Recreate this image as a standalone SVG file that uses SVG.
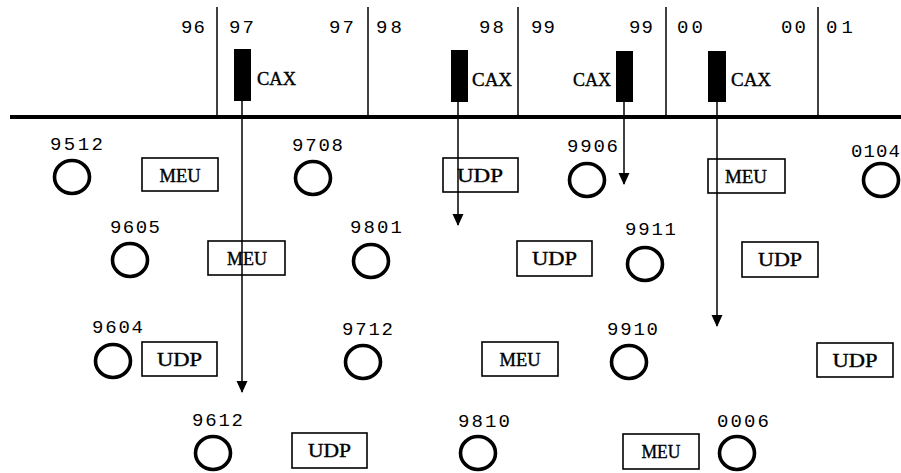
<svg xmlns="http://www.w3.org/2000/svg" width="901" height="473" viewBox="0 0 901 473">
<style>
.bg{fill:#fff}
.yr{font-family:"Liberation Mono","DejaVu Sans Mono",monospace;font-size:19px;fill:#000}
.lbl{font-family:"Liberation Mono","DejaVu Sans Mono",monospace;font-size:19px;fill:#000}
.srf{font-family:"Liberation Serif","DejaVu Serif",serif;font-size:19.5px;fill:#000;stroke:#000;stroke-width:0.4}
.ring{fill:none;stroke:#000;stroke-width:3.6}
.box{fill:#fff;stroke:#000;stroke-width:1.6}
.bar{fill:#000}
.div{stroke:#000;stroke-width:1.5}
.axis{stroke:#000;stroke-width:4}
.arr{stroke:#000;stroke-width:1.5;fill:none}
</style>
<defs>
<marker id="ah" viewBox="0 0 12 12" refX="11" refY="6" markerWidth="12" markerHeight="12" markerUnits="userSpaceOnUse" orient="auto">
<path d="M0,0.5 L12,6 L0,11.5 Z" fill="#000"/>
</marker>
</defs>
<rect class="bg" x="0" y="0" width="901" height="473"/>
<g id="timeline">
<line class="div" x1="217" y1="7" x2="217" y2="117"/>
<line class="div" x1="368" y1="7" x2="368" y2="117"/>
<line class="div" x1="518" y1="7" x2="518" y2="117"/>
<line class="div" x1="666" y1="7" x2="666" y2="117"/>
<line class="div" x1="818" y1="7" x2="818" y2="117"/>
<line class="axis" x1="10" y1="117" x2="901" y2="117"/>
<text class="yr" x="181" y="33" textLength="24">96</text>
<text class="yr" x="229" y="33" textLength="25">97</text>
<text class="yr" x="329" y="33" textLength="25">97</text>
<text class="yr" x="376" y="33" textLength="26">98</text>
<text class="yr" x="479" y="33" textLength="25">98</text>
<text class="yr" x="531" y="33" textLength="24">99</text>
<text class="yr" x="629" y="33" textLength="24">99</text>
<text class="yr" x="677" y="33" textLength="26">00</text>
<text class="yr" x="781" y="33" textLength="25">00</text>
<text class="yr" x="826" y="33" textLength="27">01</text>
</g>
<g id="cax1"><rect class="bar" x="234" y="49" width="17" height="52"/><text class="srf" x="257" y="85" textLength="39" lengthAdjust="spacingAndGlyphs">CAX</text></g>
<g id="cax2"><rect class="bar" x="451" y="50" width="17" height="52"/><text class="srf" x="472" y="86" textLength="40" lengthAdjust="spacingAndGlyphs">CAX</text></g>
<g id="cax3"><rect class="bar" x="616" y="51" width="17" height="51"/><text class="srf" x="573" y="86" textLength="38" lengthAdjust="spacingAndGlyphs">CAX</text></g>
<g id="cax4"><rect class="bar" x="708" y="51" width="18" height="51"/><text class="srf" x="731" y="86" textLength="40" lengthAdjust="spacingAndGlyphs">CAX</text></g>

<g id="n9512"><text class="lbl" x="50" y="150" textLength="53">9512</text><ellipse class="ring" cx="72" cy="177" rx="17.5" ry="16.5"/></g>
<g id="n9708"><text class="lbl" x="292" y="151" textLength="51">9708</text><ellipse class="ring" cx="313" cy="178" rx="17.5" ry="16.5"/></g>
<g id="n9906"><text class="lbl" x="567" y="152" textLength="51">9906</text><ellipse class="ring" cx="587" cy="180" rx="17.5" ry="16.5"/></g>
<g id="n0104"><text class="lbl" x="851" y="157" textLength="49">0104</text><ellipse class="ring" cx="881" cy="180" rx="17.5" ry="16.5"/></g>
<g id="n9605"><text class="lbl" x="110" y="233" textLength="50">9605</text><ellipse class="ring" cx="130" cy="260" rx="17.5" ry="16.5"/></g>
<g id="n9801"><text class="lbl" x="350" y="233" textLength="52">9801</text><ellipse class="ring" cx="371" cy="261" rx="17.5" ry="16.5"/></g>
<g id="n9911"><text class="lbl" x="625" y="235" textLength="51">9911</text><ellipse class="ring" cx="645" cy="264" rx="17.5" ry="16.5"/></g>
<g id="n9604"><text class="lbl" x="92" y="333" textLength="51">9604</text><ellipse class="ring" cx="113" cy="361" rx="17.5" ry="16.5"/></g>
<g id="n9712"><text class="lbl" x="342" y="335" textLength="51">9712</text><ellipse class="ring" cx="363" cy="362" rx="17.5" ry="16.5"/></g>
<g id="n9910"><text class="lbl" x="607" y="335" textLength="51">9910</text><ellipse class="ring" cx="629" cy="362" rx="17.5" ry="16.5"/></g>
<g id="n9612"><text class="lbl" x="192" y="426" textLength="51">9612</text><ellipse class="ring" cx="213" cy="453" rx="17.5" ry="16.5"/></g>
<g id="n9810"><text class="lbl" x="458" y="427" textLength="52">9810</text><ellipse class="ring" cx="478" cy="453" rx="17.5" ry="16.5"/></g>
<g id="n0006"><text class="lbl" x="717" y="427" textLength="52">0006</text><ellipse class="ring" cx="737" cy="453" rx="17.5" ry="16.5"/></g>

<g id="b1"><rect class="box" x="142" y="158" width="76" height="33"/><text class="srf" x="180" y="182" text-anchor="middle" textLength="41" lengthAdjust="spacingAndGlyphs">MEU</text></g>
<g id="b2"><rect class="box" x="443" y="158" width="75" height="34"/><text class="srf" x="480" y="182" text-anchor="middle" textLength="46" lengthAdjust="spacingAndGlyphs">UDP</text></g>
<g id="b3"><rect class="box" x="708" y="159" width="77" height="34"/><text class="srf" x="746" y="183" text-anchor="middle" textLength="42" lengthAdjust="spacingAndGlyphs">MEU</text></g>
<g id="b4"><rect class="box" x="208" y="241" width="77" height="34"/><text class="srf" x="247" y="265" text-anchor="middle" textLength="40" lengthAdjust="spacingAndGlyphs">MEU</text></g>
<g id="b5"><rect class="box" x="517" y="241" width="75" height="35"/><text class="srf" x="554.5" y="265" text-anchor="middle" textLength="45" lengthAdjust="spacingAndGlyphs">UDP</text></g>
<g id="b6"><rect class="box" x="742" y="242" width="76" height="35"/><text class="srf" x="780" y="266" text-anchor="middle" textLength="44" lengthAdjust="spacingAndGlyphs">UDP</text></g>
<g id="b7"><rect class="box" x="142" y="342" width="75" height="34"/><text class="srf" x="179.5" y="366" text-anchor="middle" textLength="45" lengthAdjust="spacingAndGlyphs">UDP</text></g>
<g id="b8"><rect class="box" x="482" y="342" width="76" height="34"/><text class="srf" x="520" y="366" text-anchor="middle" textLength="41" lengthAdjust="spacingAndGlyphs">MEU</text></g>
<g id="b9"><rect class="box" x="817" y="343" width="76" height="34"/><text class="srf" x="855" y="367" text-anchor="middle" textLength="45" lengthAdjust="spacingAndGlyphs">UDP</text></g>
<g id="b10"><rect class="box" x="292" y="433" width="75" height="35"/><text class="srf" x="329.5" y="457" text-anchor="middle" textLength="43" lengthAdjust="spacingAndGlyphs">UDP</text></g>
<g id="b11"><rect class="box" x="623" y="434" width="76" height="35"/><text class="srf" x="661" y="458" text-anchor="middle" textLength="39" lengthAdjust="spacingAndGlyphs">MEU</text></g>

<g id="connectors">
<line class="arr" x1="242" y1="101" x2="242" y2="392" marker-end="url(#ah)"/>
<line class="arr" x1="458" y1="102" x2="458" y2="225" marker-end="url(#ah)"/>
<line class="arr" x1="624" y1="102" x2="624" y2="184" marker-end="url(#ah)"/>
<line class="arr" x1="717" y1="102" x2="717" y2="326" marker-end="url(#ah)"/>
</g>
</svg>
